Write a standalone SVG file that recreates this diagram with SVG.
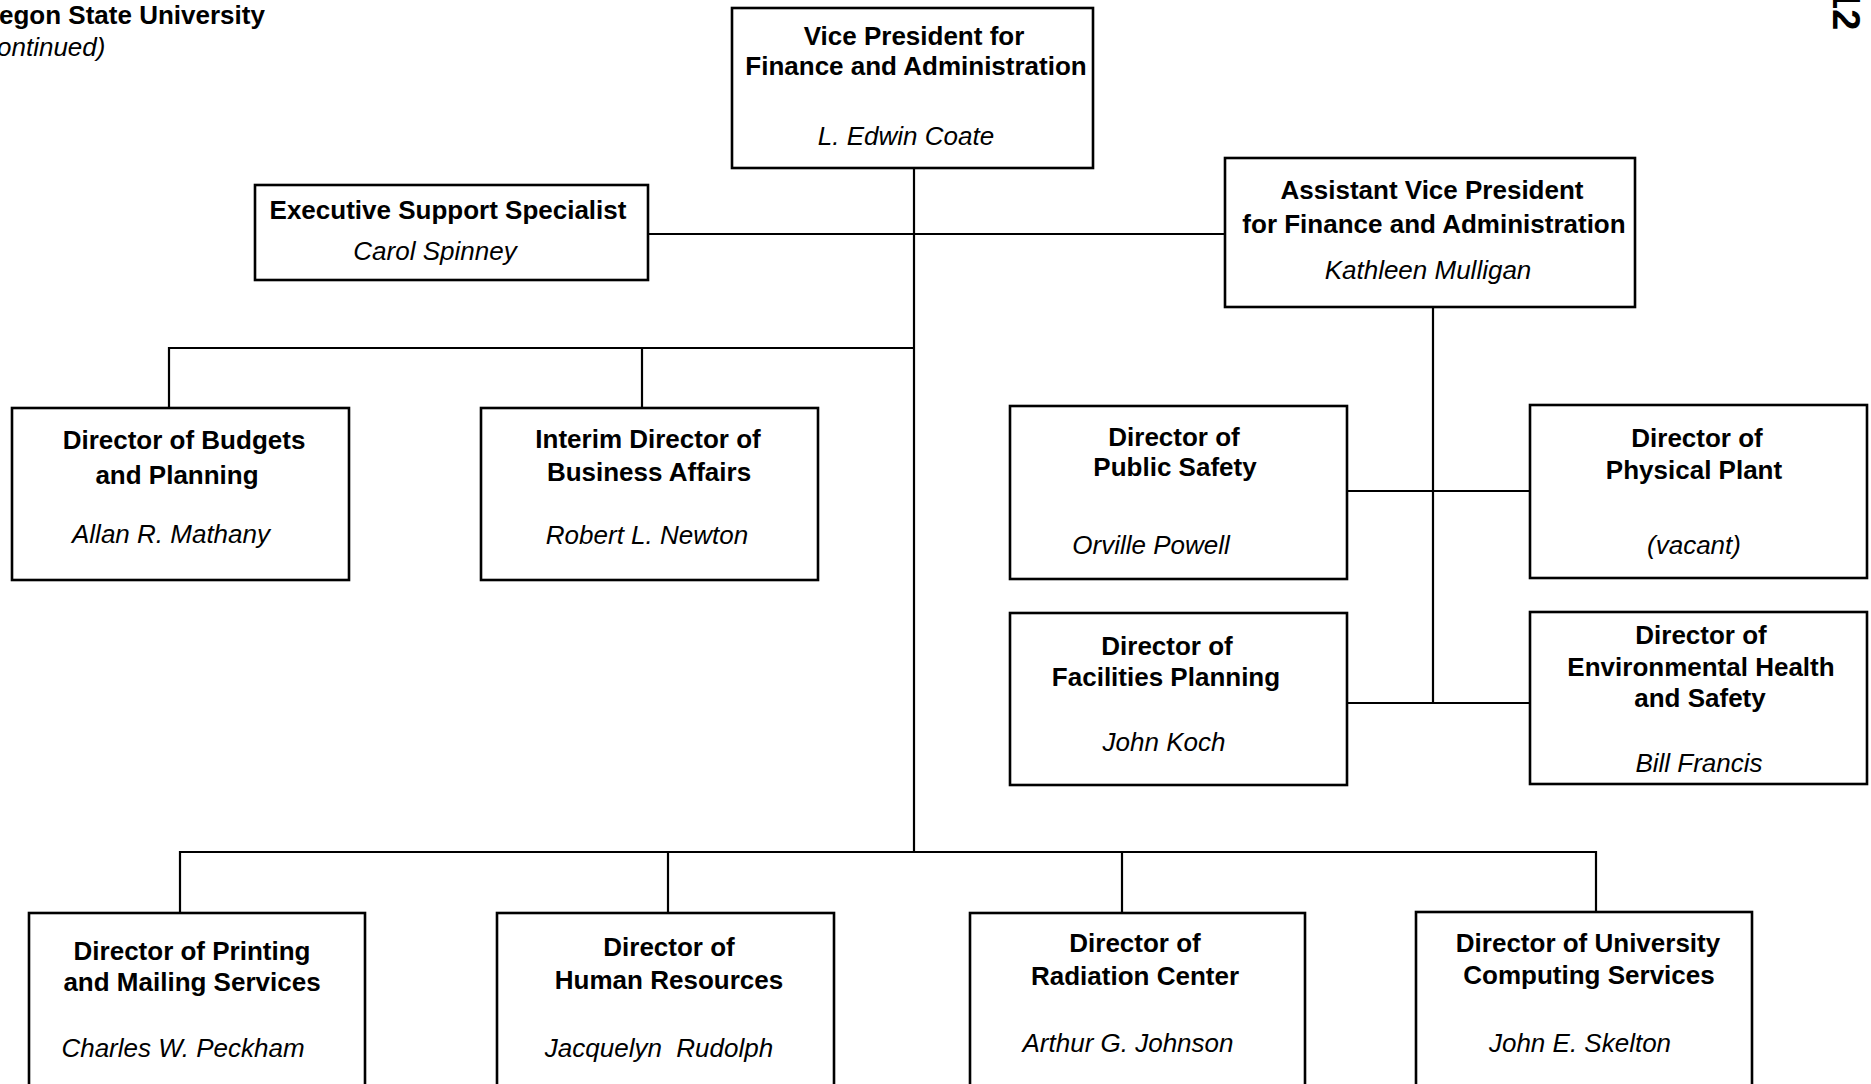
<svg xmlns="http://www.w3.org/2000/svg" width="1871" height="1084" viewBox="0 0 1871 1084">
<style>
.box{fill:#fff;stroke:#000;stroke-width:2.6}
.ln{fill:none;stroke:#000;stroke-width:2.2}
text{font-family:"Liberation Sans",Arial,sans-serif;font-size:26px;fill:#000}
.t{font-weight:bold;text-anchor:middle}
.n{font-style:italic;text-anchor:middle}
.hd{font-weight:bold}
.hi{font-style:italic}
.pg{font-weight:bold;font-size:38px}
</style>
<rect width="1871" height="1084" fill="#fff"/>
<g id="header">
<text class="hd" x="-1" y="24">egon State University</text>
<text class="hi" x="-3" y="56">ontinued)</text>
<text class="pg" transform="translate(1833,-12) rotate(90)">12</text>
</g>
<g id="connectors">
<path class="ln" d="M914,168 V852"/>
<path class="ln" d="M648,234 H1225"/>
<path class="ln" d="M169,408 V348 H914"/>
<path class="ln" d="M642,348 V408"/>
<path class="ln" d="M1433,307 V703"/>
<path class="ln" d="M1347,491 H1530"/>
<path class="ln" d="M1347,703 H1530"/>
<path class="ln" d="M180,913 V852 H1596 V912"/>
<path class="ln" d="M668,852 V913"/>
<path class="ln" d="M1122,852 V913"/>
</g>
<g id="vp">
<rect class="box" x="732" y="8" width="361" height="160"/>
<text class="t" x="914" y="45">Vice President for</text>
<text class="t" x="916" y="75">Finance and Administration</text>
<text class="n" x="906" y="145">L. Edwin Coate</text>
</g>
<g id="exec">
<rect class="box" x="255" y="185" width="393" height="95"/>
<text class="t" x="448" y="219">Executive Support Specialist</text>
<text class="n" x="435" y="260">Carol Spinney</text>
</g>
<g id="avp">
<rect class="box" x="1225" y="158" width="410" height="149"/>
<text class="t" x="1432" y="199">Assistant Vice President</text>
<text class="t" x="1434" y="233">for Finance and Administration</text>
<text class="n" x="1428" y="279">Kathleen Mulligan</text>
</g>
<g id="budgets">
<rect class="box" x="12" y="408" width="337" height="172"/>
<text class="t" x="184" y="449">Director of Budgets</text>
<text class="t" x="177" y="484">and Planning</text>
<text class="n" x="171" y="543">Allan R. Mathany</text>
</g>
<g id="business">
<rect class="box" x="481" y="408" width="337" height="172"/>
<text class="t" x="648" y="448">Interim Director of</text>
<text class="t" x="649" y="481">Business Affairs</text>
<text class="n" x="647" y="544">Robert L. Newton</text>
</g>
<g id="publicsafety">
<rect class="box" x="1010" y="406" width="337" height="173"/>
<text class="t" x="1174" y="446">Director of</text>
<text class="t" x="1175" y="476">Public Safety</text>
<text class="n" x="1151" y="554">Orville Powell</text>
</g>
<g id="physicalplant">
<rect class="box" x="1530" y="405" width="337" height="173"/>
<text class="t" x="1697" y="447">Director of</text>
<text class="t" x="1694" y="479">Physical Plant</text>
<text class="n" x="1694" y="554">(vacant)</text>
</g>
<g id="facilities">
<rect class="box" x="1010" y="613" width="337" height="172"/>
<text class="t" x="1167" y="655">Director of</text>
<text class="t" x="1166" y="686">Facilities Planning</text>
<text class="n" x="1164" y="751">John Koch</text>
</g>
<g id="envhealth">
<rect class="box" x="1530" y="612" width="337" height="172"/>
<text class="t" x="1701" y="644">Director of</text>
<text class="t" x="1701" y="676">Environmental Health</text>
<text class="t" x="1700" y="707">and Safety</text>
<text class="n" x="1699" y="772">Bill Francis</text>
</g>
<g id="printing">
<rect class="box" x="29" y="913" width="336" height="190"/>
<text class="t" x="192" y="960">Director of Printing</text>
<text class="t" x="192" y="991">and Mailing Services</text>
<text class="n" x="183" y="1057">Charles W. Peckham</text>
</g>
<g id="hr">
<rect class="box" x="497" y="913" width="337" height="190"/>
<text class="t" x="669" y="956">Director of</text>
<text class="t" x="669" y="989">Human Resources</text>
<text class="n" x="659" y="1057" xml:space="preserve">Jacquelyn  Rudolph</text>
</g>
<g id="radiation">
<rect class="box" x="970" y="913" width="335" height="190"/>
<text class="t" x="1135" y="952">Director of</text>
<text class="t" x="1135" y="985">Radiation Center</text>
<text class="n" x="1128" y="1052">Arthur G. Johnson</text>
</g>
<g id="computing">
<rect class="box" x="1416" y="912" width="336" height="190"/>
<text class="t" x="1588" y="952">Director of University</text>
<text class="t" x="1589" y="984">Computing Services</text>
<text class="n" x="1580" y="1052">John E. Skelton</text>
</g>
</svg>
